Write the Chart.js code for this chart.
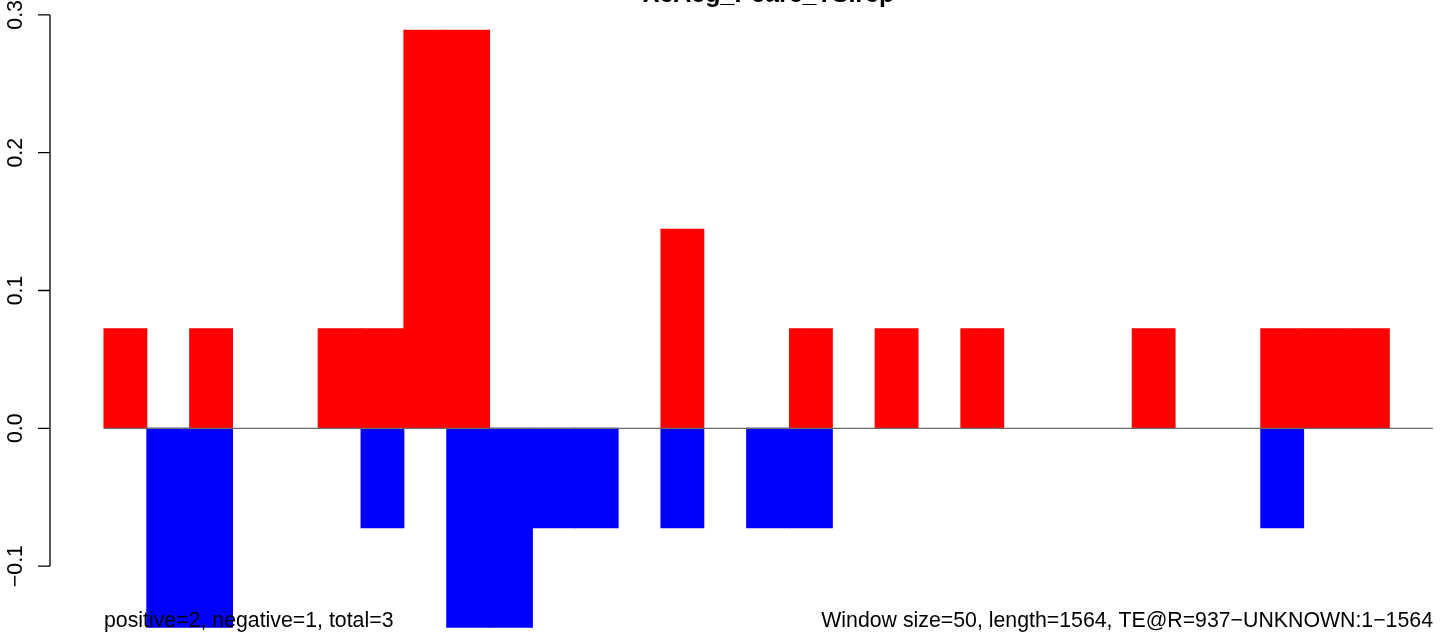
<!DOCTYPE html>
<html>
<head>
<meta charset="utf-8">
<script src="https://cdn.jsdelivr.net/npm/chart.js@4/dist/chart.umd.min.js"></script>
<style>
  html, body { margin: 0; padding: 0; background: #fff; }
  canvas { display: block; }
</style>
</head>
<body>
<canvas id="myChart" width="1444" height="636"></canvas>
<script>
// window index (one bar per window)
const windows = [0,1,2,3,4,5,6,7,8,9,10,11,12,13,14,15,16,17,18,19,20,21,22,23,24,25,26,27,28,29];
// positive strand fraction per window (red)
const positive = [0.0722,0,0.0722,0,0,0.0722,0.0722,0.2888,0.2888,0,0,0,0,0.1444,0,0,0.0722,0,0.0722,0,0.0722,0,0,0,0.0722,0,0,0.0722,0.0722,0.0722];
// negative strand fraction per window (blue)
const negative = [0,-0.1444,-0.1444,0,0,0,-0.0722,0,-0.1444,-0.1444,-0.0722,-0.0722,0,-0.0722,0,-0.0722,-0.0722,0,0,0,0,0,0,0,0,0,0,-0.0722,0,0];
const yTicks = [-0.1, 0.0, 0.1, 0.2, 0.3];
const tickLabels = ['\u22120.1', '0.0', '0.1', '0.2', '0.3'];

const titleText = 'XcAeg_Peare_TSIrep';
const leftNote = 'positive=2, negative=1, total=3';
const rightNote = 'Window size=50, length=1564, TE@R=937\u2212UNKNOWN:1\u22121564';

const FONT = '"Liberation Sans", Arial, Helvetica, sans-serif';

// empty windows get no bar at all (a zero bar would leave a sliver on the stack)
const toPoints = vals => windows.map((w, i) => ({ x: w, y: vals[i] === 0 ? null : vals[i] }));

// R-style axis, zero line and text, drawn from the chart's own scales
const rDecor = {
  id: 'rDecor',
  afterDatasetsDraw(chart) {
    const ctx = chart.ctx;
    const xs = chart.scales.x;
    const ys = chart.scales.y;
    const area = chart.chartArea;
    const x0 = xs.getPixelForValue(-0.5);
    const y0 = ys.getPixelForValue(0);

    ctx.save();
    // zero line
    ctx.strokeStyle = '#6a6a6a';
    ctx.lineWidth = 1.3;
    ctx.beginPath();
    ctx.moveTo(x0, y0);
    ctx.lineTo(area.right, y0);
    ctx.stroke();

    // y axis
    const ax = area.left;
    ctx.strokeStyle = '#000';
    ctx.lineWidth = 1.3;
    ctx.beginPath();
    ctx.moveTo(ax, ys.getPixelForValue(yTicks[0]));
    ctx.lineTo(ax, ys.getPixelForValue(yTicks[yTicks.length - 1]));
    yTicks.forEach(t => {
      const py = ys.getPixelForValue(t);
      ctx.moveTo(ax, py);
      ctx.lineTo(ax - 12, py);
    });
    ctx.stroke();

    ctx.fillStyle = '#000';
    ctx.font = '21.3px ' + FONT;
    ctx.textAlign = 'center';
    ctx.textBaseline = 'alphabetic';
    yTicks.forEach((t, i) => {
      ctx.save();
      ctx.translate(ax - 28, ys.getPixelForValue(t));
      ctx.rotate(-Math.PI / 2);
      ctx.fillText(tickLabels[i], 0, 0);
      ctx.restore();
    });

    // notes under the bars
    ctx.textAlign = 'left';
    ctx.fillText(leftNote, x0, 627);
    ctx.textAlign = 'right';
    ctx.fillText(rightNote, area.right, 627);

    // title, mostly off the top edge
    ctx.font = 'bold 25px ' + FONT;
    ctx.textAlign = 'center';
    ctx.fillText(titleText, (x0 + area.right) / 2, 2);
    ctx.restore();
  }
};

const ctx = document.getElementById('myChart').getContext('2d');
new Chart(ctx, {
  type: 'bar',
  data: {
    datasets: [
      {
        label: 'positive',
        data: toPoints(positive),
        backgroundColor: '#ff0000',
        borderWidth: 0,
        inflateAmount: 0.5,
        barPercentage: 1,
        categoryPercentage: 1
      },
      {
        label: 'negative',
        data: toPoints(negative),
        backgroundColor: '#0000ff',
        borderWidth: 0,
        inflateAmount: 0.5,
        barPercentage: 1,
        categoryPercentage: 1
      }
    ]
  },
  options: {
    responsive: false,
    animation: false,
    devicePixelRatio: 1,
    layout: { padding: { left: 50, right: 11, top: 0, bottom: 0 } },
    plugins: { legend: { display: false }, tooltip: { enabled: false }, title: { display: false } },
    scales: {
      x: { type: 'linear', stacked: true, offset: false, min: -1.76, max: 30.52, display: false },
      y: { stacked: true, min: -0.1507, max: 0.3108, display: false }
    }
  },
  plugins: [rDecor]
});
</script>
</body>
</html>
